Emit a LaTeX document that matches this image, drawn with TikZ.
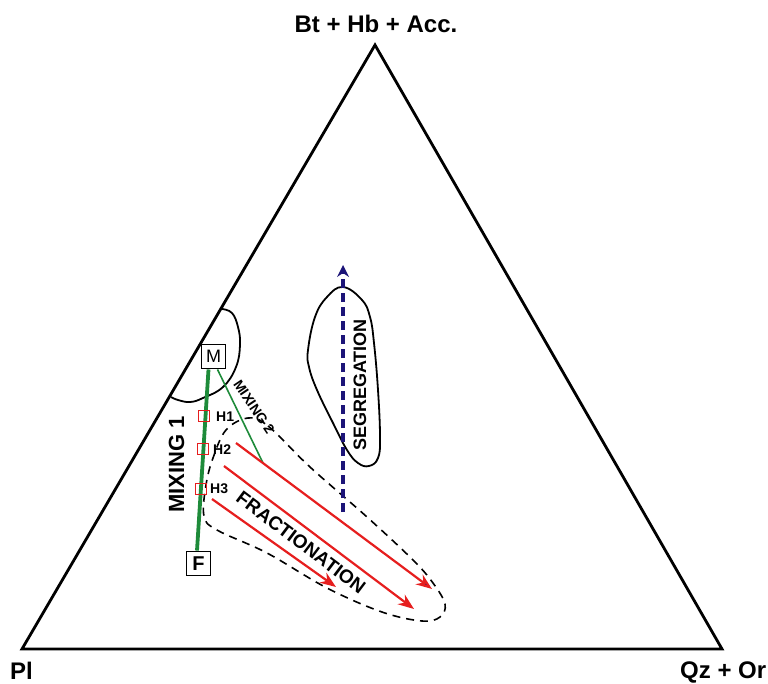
\documentclass[tikz,border=0pt]{standalone}
\usepackage{fontspec}
\setmainfont{Liberation Sans}
\usepackage{tikz}
\usetikzlibrary{arrows.meta,calc}
\definecolor{mixgreen}{HTML}{1E8B3A}
\definecolor{fracred}{HTML}{E61E1E}
\definecolor{segblue}{HTML}{1C1478}
\tikzset{apex/.style={font=\fontsize{24}{28}\selectfont\bfseries,inner sep=0pt},
         endbox/.style={draw,line width=1.9pt,minimum size=24pt,inner sep=0pt},
         hbox/.style={draw=fracred,line width=1.5pt,minimum size=11pt,inner sep=0pt},
         hlabel/.style={font=\fontsize{14}{16}\selectfont\bfseries,inner sep=0pt},
         trend/.style={inner sep=0pt},
         fract/.style={-{Stealth[length=16pt,width=12pt]},line width=2.2pt,draw=fracred,fill=fracred},
         field/.style={line width=1.8pt}}

\begin{document}
\begin{tikzpicture}[x=1pt,y=-1pt]
\useasboundingbox (0,0) rectangle (768,683);
% ternary frame
\coordinate (top) at (375,45);
\coordinate (pl) at (22,649);
\coordinate (qz) at (722,649);
\draw[line width=2.8pt,line join=miter] (top) -- (pl) -- (qz) -- cycle;
\node[apex,anchor=base] (ttop) at (376,32) {Bt + Hb + Acc.};
\node[apex,anchor=base west] (tpl) at (10,679) {Pl};
\node[apex,anchor=base west] (tqz) at (680,678) {Qz + Or};
% fields
\draw[field] plot[smooth,tension=0.7] coordinates {(222,309) (232,313) (238,327) (240,345) (236,367) (223,387) (203,398) (190,402) (178,400) (171,397)};
\draw[field] plot[smooth cycle,tension=0.7] coordinates {(343,287) (362,300) (370,317) (374,343) (378,390) (380,437) (378,458) (369,466) (358,463) (347,450) (333,423) (317,390) (309,367) (308,350) (315,317) (327,297)};
\draw[line width=1.6pt,dash pattern=on 8pt off 6pt] plot[smooth cycle,tension=0.6] coordinates {(248,418) (268,426) (310,467) (367,517) (413,560) (433,583) (445,604) (440,617) (422,621) (382,612) (327,588) (267,553) (217,530) (204,516) (206,485) (213,458) (226,430)};
% end members
\node[endbox,font=\fontsize{18}{20}\selectfont] (M) at (213.5,356.5) {M};
\node[endbox,font=\fontsize{20}{22}\selectfont\bfseries] (F) at (198.5,563.5) {F};
% mixing lines
\draw[mixgreen,line width=3.8pt] ([xshift=-5pt]M.south) -- ([xshift=-1.5pt]F.north);
\coordinate (m2end) at (263,463);
\draw[mixgreen,line width=1.6pt] ([xshift=4pt]M.south) -- (m2end);
\node[trend,font=\fontsize{22}{24}\selectfont\bfseries,rotate=90] (mix1) at (176.5,464.5) {MIXING 1};
\node[trend,font=\fontsize{14}{16}\selectfont\bfseries,rotate=-56] (mix2) at (254,407) {MIXING 2};
% hybrids
\node[hbox] (H1) at (204,416) {};
\node[hbox] (H2) at (203,449) {};
\node[hbox] (H3) at (201,489) {};
\node[hlabel,anchor=west] (lH1) at (216,417) {H1};
\node[hlabel,anchor=west] (lH2) at (213,450) {H2};
\node[hlabel,anchor=west] (lH3) at (210,489) {H3};
% segregation
\coordinate (sbot) at (343,512);
\coordinate (stop) at (343,265);
\draw[segblue,line width=4pt,dash pattern=on 9pt off 5pt,-{Stealth[length=12pt,width=12pt,line width=0pt]}] (sbot) -- (stop);
\node[trend,font=\fontsize{18}{20}\selectfont\bfseries,rotate=90] (seg) at (360,385) {SEGREGATION};
% fractionation
\coordinate (f1a) at (236,443);
\coordinate (f1b) at (432,589);
\coordinate (f2a) at (224,466);
\coordinate (f2b) at (414,609);
\coordinate (f3a) at (212,499);
\coordinate (f3b) at (336,587);
\draw[fract,-{Stealth[length=16pt,width=12pt,fill=segblue]}] (f1a) -- (f1b);
\draw[fract] (f2a) -- (f2b);
\draw[fract] (f3a) -- (f3b);
\node[trend,font=\fontsize{19}{22}\selectfont\bfseries,rotate=-37] (frac) at (301,542.5) {FRACTIONATION};
\end{tikzpicture}
\end{document}
